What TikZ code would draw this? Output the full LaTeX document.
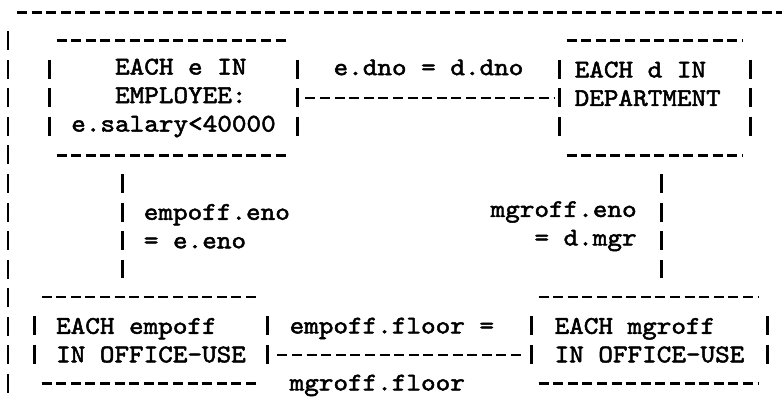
\documentclass[tikz,border=0pt]{standalone}
\usepackage{fontspec}
\newfontfamily\typewriter{lmmono10-regular}[Extension=.otf, FakeBold=2, FakeStretch=1.095]

\tikzset{
  every node/.style={inner sep=0pt, font=\typewriter\fontsize{12.7pt}{14.25pt}\selectfont},
  hyphens/.style={line width=1.25pt, dash pattern=on 5pt off 2.3pt},
  bars/.style={line width=1.25pt, dash pattern=on 9.5pt off 4.75pt},
  relbox/.style={rectangle, align=left},
}

\begin{document}
\begin{tikzpicture}[x=0.5pt, y=-0.5pt]
  \useasboundingbox (0,0) rectangle (782,401);

  % outer frame
  \draw[hyphens] (17,12.5) -- (782,12.5);
  \draw[bars] (8,31.5) -- (8,392.5);

  % range boxes
  \node[relbox, minimum width=123.5pt, minimum height=57pt] (emp) at (173.5,98)
    {\phantom{XXX}EACH e IN\\\phantom{XXX}EMPLOYEE:\\e.salary<40000};
  \node[relbox, minimum width=95pt, minimum height=57pt] (dept) at (655,98)
    {EACH d IN\\DEPARTMENT\phantom{X}\\\phantom{X}};
  \node[relbox, minimum width=116pt, minimum height=42.75pt] (empoff) at (151,340.25)
    {EACH empoff\\IN OFFICE-USE};
  \node[relbox, minimum width=117.5pt, minimum height=42.75pt] (mgroff) at (649.5,340.25)
    {EACH mgroff\\IN OFFICE-USE};

  \foreach \r in {emp,dept,empoff,mgroff} {
    \draw[hyphens] ([xshift=3.5pt]\r.north west) -- ([xshift=-4pt]\r.north east);
    \draw[hyphens] ([xshift=3.5pt]\r.south west) -- ([xshift=-4pt]\r.south east);
    \draw[bars] ([yshift=-9.5pt]\r.north west) -- ([yshift=9.5pt]\r.south west);
    \draw[bars] ([yshift=-9.5pt]\r.north east) -- ([yshift=9.5pt]\r.south east);
  }

  % join conditions
  \draw[hyphens, shorten <=4pt, shorten >=2.5pt] (emp.east) -- (dept.west)
    node[midway, above=10.75pt] (dno) {e.dno = d.dno};

  \draw[bars, shorten <=9.5pt, shorten >=9.5pt]
    ([xshift=36.5pt]emp.south west) -- ([xshift=36.5pt]emp.south west |- empoff.north)
    node[midway, right=10pt, align=left] (eno) {empoff.eno\\= e.eno};

  \draw[bars, shorten <=9.5pt, shorten >=9.5pt]
    ([xshift=51pt]dept.south west) -- ([xshift=51pt]dept.south west |- mgroff.north)
    node[midway, left=11.85pt, align=right] (mgr) {mgroff.eno\\= d.mgr};

  \draw[hyphens, shorten <=5pt, shorten >=5pt]
    ([yshift=14.25pt]empoff.south east) -- ([yshift=14.25pt]mgroff.south west)
    node[pos=0, anchor=base west, xshift=10.5pt, yshift=10.75pt] (flooremp) {empoff.floor =}
    node[pos=0, anchor=base west, xshift=10.5pt, yshift=-17.75pt] (floormgr) {mgroff.floor};

\end{tikzpicture}
\end{document}
